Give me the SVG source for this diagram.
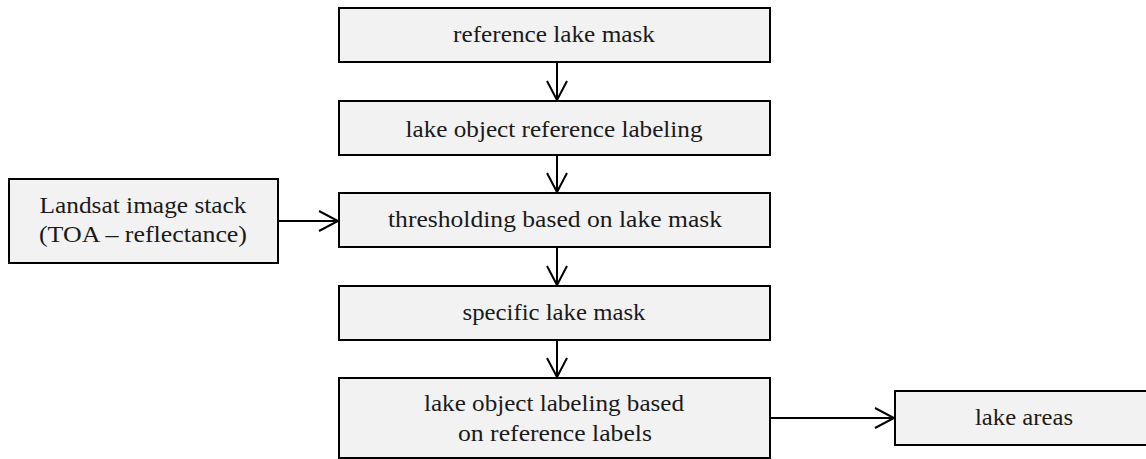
<svg xmlns="http://www.w3.org/2000/svg" width="1146" height="459" viewBox="0 0 1146 459">
<style>
.box{fill:#f2f2f2;stroke:#000;stroke-width:2}
.t{font-family:'Liberation Serif','Times New Roman',Times,serif;font-size:23px;fill:#1a1a1a;text-anchor:middle}
.c{fill:none;stroke:#000;stroke-width:2}
</style>
<rect width="1146" height="459" fill="#fff"/>
<g id="n1"><rect class="box" x="339" y="8" width="431" height="54"/><text class="t" x="554" y="42" textLength="202" lengthAdjust="spacingAndGlyphs">reference lake mask</text></g>
<g id="n2"><rect class="box" x="339" y="101" width="431" height="54"/><text class="t" x="554" y="137" textLength="297" lengthAdjust="spacingAndGlyphs">lake object reference labeling</text></g>
<g id="n3"><rect class="box" x="339" y="193" width="431" height="54"/><text class="t" x="555" y="227" textLength="334" lengthAdjust="spacingAndGlyphs">thresholding based on lake mask</text></g>
<g id="n4"><rect class="box" x="339" y="286" width="431" height="54"/><text class="t" x="554" y="320" textLength="183" lengthAdjust="spacingAndGlyphs">specific lake mask</text></g>
<g id="n5"><rect class="box" x="339" y="378" width="431" height="80"/><text class="t" x="554" y="411" textLength="260" lengthAdjust="spacingAndGlyphs">lake object labeling based</text><text class="t" x="555" y="441" textLength="194" lengthAdjust="spacingAndGlyphs">on reference labels</text></g>
<g id="n6"><rect class="box" x="9" y="179" width="269" height="84"/><text class="t" x="143" y="213" textLength="207" lengthAdjust="spacingAndGlyphs">Landsat image stack</text><text class="t" x="143" y="242" textLength="208" lengthAdjust="spacingAndGlyphs">(TOA – reflectance)</text></g>
<g id="n7"><rect class="box" x="895" y="391" width="262" height="54"/><text class="t" x="1024" y="425" textLength="98" lengthAdjust="spacingAndGlyphs">lake areas</text></g>
<g id="connectors">
<path class="c" d="M557 62V100M547 81L557 100L567 81"/>
<path class="c" d="M557 155V192M547 173L557 192L567 173"/>
<path class="c" d="M557 247V285M547 266L557 285L567 266"/>
<path class="c" d="M557 340V377M547 358L557 377L567 358"/>
<path class="c" d="M278 221H338M319 211L338 221L319 231"/>
<path class="c" d="M770 418H894M875 408L894 418L875 428"/>
</g>
</svg>
